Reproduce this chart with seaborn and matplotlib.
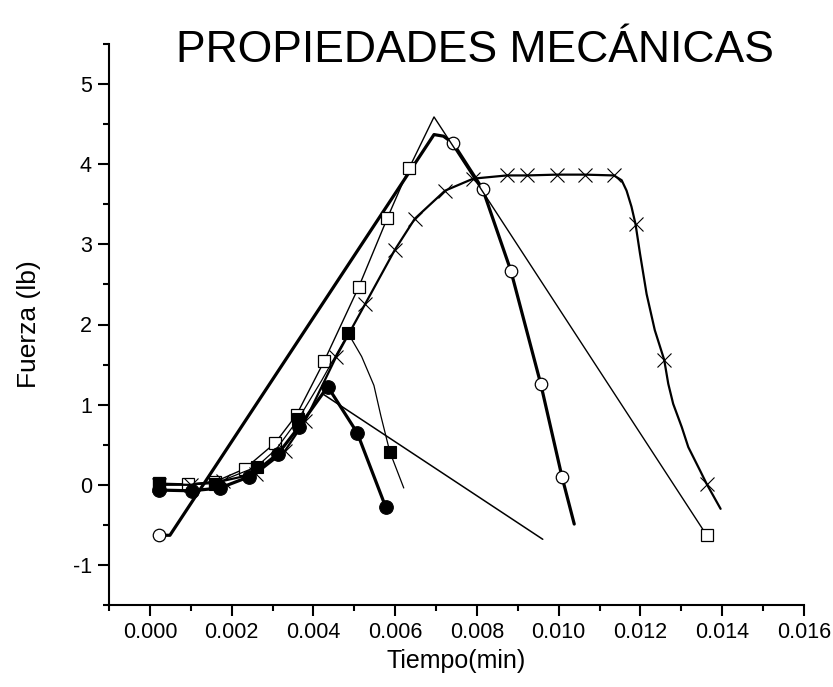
import matplotlib
matplotlib.use("Agg")
import matplotlib.pyplot as plt
from matplotlib import font_manager
from matplotlib.ticker import FixedLocator, FixedFormatter, MultipleLocator
import seaborn as sns

# ---- data: time (min) vs force (lb) for five specimens ----
# specimen A (open circles)
t_a = [0.00022, 0.00049, 0.00695, 0.00718, 0.00742, 0.00814, 0.00883, 0.00956, 0.01008, 0.01038]
f_a = [-0.63, -0.63, 4.37, 4.35, 4.26, 3.69, 2.67, 1.26, 0.10, -0.49]

# specimen B (open squares)
t_b = [0.00022, 0.00094, 0.00160, 0.00232, 0.00306, 0.00359, 0.00426, 0.00511, 0.00581, 0.00634, 0.00695, 0.01362]
f_b = [0.02, 0.01, 0.04, 0.20, 0.52, 0.875, 1.54, 2.47, 3.33, 3.95, 4.59, -0.63]

# specimen C (crosses)
t_c = [0.00022, 0.00100, 0.00180, 0.00260, 0.00330, 0.00380, 0.00455, 0.00526, 0.00599, 0.00648,
       0.00722, 0.00791, 0.00873, 0.00923, 0.00995, 0.01064, 0.01135, 0.01154, 0.01166, 0.01178,
       0.01188, 0.01199, 0.01215, 0.01235, 0.01258, 0.01268, 0.01280, 0.01301, 0.01317, 0.01346,
       0.01362, 0.01396]
f_c = [0.00, 0.00, 0.05, 0.14, 0.42, 0.80, 1.59, 2.25, 2.93, 3.32,
       3.67, 3.82, 3.86, 3.86, 3.87, 3.87, 3.86, 3.80, 3.67, 3.47,
       3.25, 2.88, 2.38, 1.93, 1.56, 1.26, 1.01, 0.72, 0.47, 0.175,
       0.01, -0.30]

# specimen D (filled squares)
t_d = [0.00022, 0.00100, 0.00159, 0.00261, 0.00310, 0.00363, 0.00420, 0.00485, 0.00518, 0.00548,
       0.00565, 0.00587, 0.00621]
f_d = [0.016, 0.00, 0.016, 0.225, 0.45, 0.82, 1.30, 1.89, 1.60, 1.24,
       0.86, 0.41, -0.04]

# specimen E (filled circles)
t_e = [0.00022, 0.00102, 0.00171, 0.00243, 0.00314, 0.00365, 0.00435, 0.00507, 0.00577]
f_e = [-0.066, -0.075, -0.04, 0.10, 0.39, 0.725, 1.225, 0.65, -0.28]

# unmarked unloading segment
t_f = [0.00421, 0.00961]
f_f = [1.14, -0.68]

x_ticks = [0.000, 0.002, 0.004, 0.006, 0.008, 0.010, 0.012, 0.014, 0.016]
x_tick_labels = ["0.000", "0.002", "0.004", "0.006", "0.008", "0.010", "0.012", "0.014", "0.016"]
y_ticks = [-1, 0, 1, 2, 3, 4, 5]
y_tick_labels = ["-1", "0", "1", "2", "3", "4", "5"]

# ---- styling ----
sns.set_style("ticks")
plt.rcParams["font.family"] = ["Liberation Sans", "DejaVu Sans"]
plt.rcParams["axes.unicode_minus"] = False

installed = {f.name for f in font_manager.fontManager.ttflist}
if "Liberation Sans Narrow" in installed:
    narrow = ["Liberation Sans Narrow", "Liberation Sans", "DejaVu Sans"]
    tick_size, xlabel_size, title_size = 17, 21, 38
else:
    narrow = ["Liberation Sans", "DejaVu Sans"]
    tick_size, xlabel_size, title_size = 15.5, 18, 32

fig = plt.figure(figsize=(8.33, 6.87), dpi=100)
ax = fig.add_axes([109 / 833, 1 - 605 / 687, 695 / 833, 561 / 687])

common = dict(ax=ax, sort=False, estimator=None, color="black", legend=False)

sns.lineplot(x=t_a, y=f_a, lw=2.3, marker="o", ms=9.0, mfc="white", mec="black", mew=0.9,
             markevery=[0, 4, 5, 6, 7, 8], **common)
sns.lineplot(x=t_b, y=f_b, lw=1.0, marker="s", ms=8.0, mfc="white", mec="black", mew=0.9,
             markevery=[0, 1, 2, 3, 4, 5, 6, 7, 8, 9, 11], **common)
sns.lineplot(x=t_c, y=f_c, lw=1.6, marker="x", ms=10.0, mec="black", mew=0.8,
             markevery=[0, 1, 2, 3, 4, 5, 6, 7, 8, 9, 10, 11, 12, 13, 14, 15, 16, 20, 24, 30], **common)
sns.lineplot(x=t_f, y=f_f, lw=1.1, **common)
sns.lineplot(x=t_d, y=f_d, lw=0.9, marker="s", ms=8.6, mfc="black", mec="black", mew=0.8,
             markevery=[0, 2, 3, 5, 7, 11], **common)
sns.lineplot(x=t_e, y=f_e, lw=2.3, marker="o", ms=9.8, mfc="black", mec="black", mew=0.8,
             **common)

ax.set_xlim(-0.001, 0.016)
ax.set_ylim(-1.5, 5.5)

ax.xaxis.set_major_locator(FixedLocator(x_ticks))
ax.xaxis.set_major_formatter(FixedFormatter(x_tick_labels))
ax.xaxis.set_minor_locator(MultipleLocator(0.001))
ax.yaxis.set_major_locator(FixedLocator(y_ticks))
ax.yaxis.set_major_formatter(FixedFormatter(y_tick_labels))
ax.yaxis.set_minor_locator(MultipleLocator(0.5))

for side in ("top", "right"):
    ax.spines[side].set_visible(False)
for side in ("left", "bottom"):
    ax.spines[side].set_linewidth(1.5)
    ax.spines[side].set_color("black")

ax.tick_params(which="major", direction="out", length=7.9, width=1.5, color="black",
               labelsize=tick_size, labelcolor="black", pad=4.5)
ax.tick_params(which="minor", direction="out", length=4.3, width=1.5, color="black")
for lab in ax.get_xticklabels() + ax.get_yticklabels():
    lab.set_family(narrow)

ax.set_xlabel("Tiempo(min)", fontsize=xlabel_size, color="black", family=narrow)
ax.set_ylabel("Fuerza (lb)", fontsize=19, color="black")
ax.xaxis.set_label_coords(0.5, -0.078)
ax.yaxis.set_label_coords(-0.098, 0.5)

fig.text(475 / 833, 1 - 62 / 687, "PROPIEDADES MECÁNICAS", fontsize=title_size,
         ha="center", va="baseline", color="black", family=narrow)

fig.savefig("out.png", dpi=100, facecolor="white")
